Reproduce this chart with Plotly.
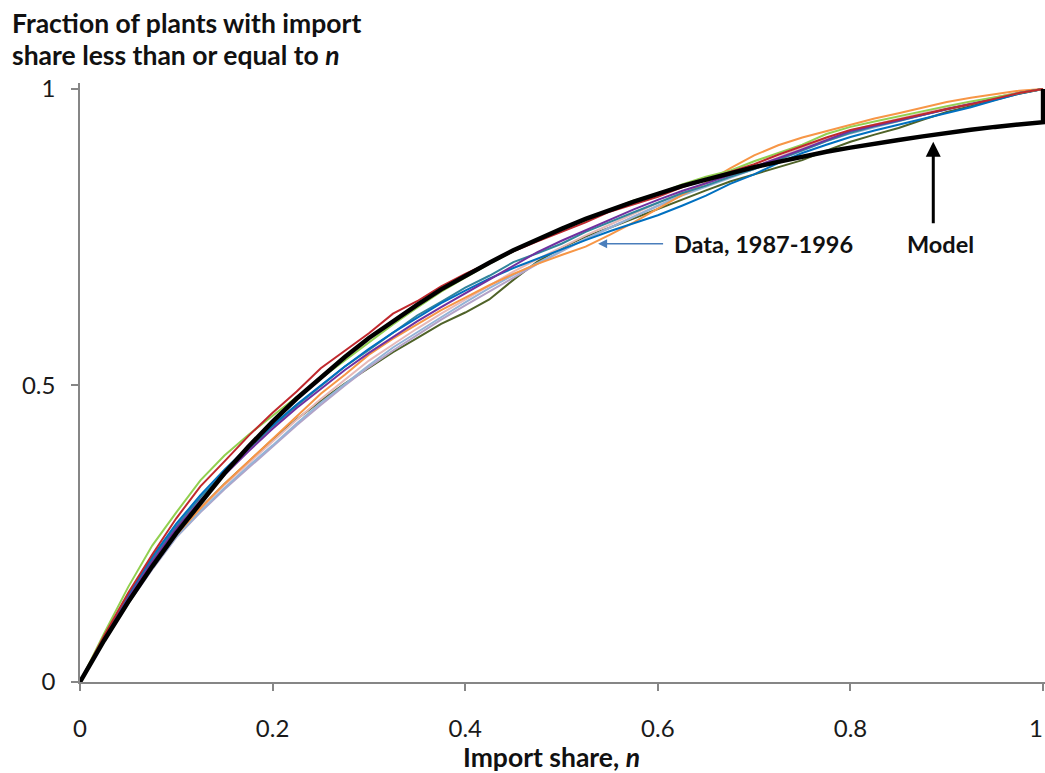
import plotly.graph_objects as go

# Shared x grid for the empirical distributions (import share n)
share = [0, .025, .05, .075, .1, .125, .15, .175, .2, .225, .25, .275, .3, .325, .35, .375,
         .4, .425, .45, .475, .5, .525, .55, .575, .6, .625, .65, .675, .7, .725, .75, .775,
         .8, .825, .85, .875, .9, .925, .95, .975, 1.0]

# Model CDF (with the jump to 1 at n = 1)
model_x = share + [1.0]
model_y = [0, .070, .135, .195, .251, .303, .352, .397, .439, .478, .514, .548, .580, .609,
           .636, .662, .685, .707, .728, .747, .764, .781, .796, .810, .823, .836, .847, .858,
           .868, .877, .886, .894, .901, .908, .914, .920, .926, .931, .936, .940, .944, 1.0]

years = ["1987", "1988", "1989", "1990", "1991", "1992", "1993", "1994", "1995", "1996"]

data_red = [0, .078, .150, .215, .276, .330, .372, .415, .454, .490, .529, .558, .588, .621, .642,
            .667, .688, .707, .726, .743, .759, .775, .793, .805, .818, .834, .847, .860, .873,
            .889, .904, .918, .931, .940, .949, .958, .966, .974, .984, .993, 1.0]
data_green = [0, .082, .160, .230, .286, .340, .382, .417, .449, .481, .512, .542, .572, .603, .631,
              .658, .682, .705, .726, .746, .764, .778, .796, .812, .823, .839, .852, .862, .878,
              .892, .906, .924, .936, .945, .954, .962, .971, .979, .986, .994, 1.0]
data_purple = [0, .073, .141, .203, .259, .306, .349, .389, .427, .462, .494, .526, .555, .582, .608,
               .632, .655, .679, .702, .725, .744, .762, .779, .797, .813, .828, .841, .855, .868,
               .883, .898, .914, .929, .938, .947, .956, .966, .975, .984, .993, 1.0]
data_teal = [0, .075, .145, .207, .263, .311, .354, .393, .431, .466, .499, .532, .560, .589, .618,
             .641, .665, .685, .708, .723, .739, .759, .776, .792, .808, .824, .837, .852, .865,
             .881, .896, .912, .926, .937, .946, .956, .966, .974, .984, .993, 1.0]
data_orange = [0, .072, .137, .195, .248, .293, .334, .372, .409, .448, .486, .518, .552, .579, .603,
               .627, .648, .669, .688, .705, .720, .734, .754, .775, .798, .821, .842, .866, .888,
               .905, .918, .929, .939, .950, .959, .968, .978, .985, .991, .997, 1.0]
data_blue = [0, .076, .147, .211, .267, .315, .358, .397, .433, .468, .500, .532, .562, .589, .614,
             .639, .660, .680, .698, .714, .729, .745, .760, .773, .787, .803, .820, .840, .856,
             .875, .892, .906, .919, .930, .940, .950, .960, .969, .981, .992, 1.0]
data_lightblue = [0, .070, .133, .191, .245, .288, .327, .364, .399, .436, .471, .503, .534, .564, .590,
                  .615, .640, .664, .686, .707, .727, .747, .766, .785, .803, .820, .835, .850, .864,
                  .880, .896, .912, .925, .936, .946, .956, .966, .975, .985, .994, 1.0]
data_pink = [0, .072, .136, .195, .249, .293, .332, .369, .405, .442, .477, .510, .542, .569, .596,
             .621, .645, .669, .692, .713, .733, .753, .771, .790, .808, .825, .840, .855, .868,
             .885, .901, .916, .930, .940, .949, .959, .969, .977, .986, .994, 1.0]
data_lavender = [0, .069, .132, .190, .244, .286, .325, .361, .397, .433, .467, .500, .531, .559, .585,
                 .611, .635, .658, .682, .705, .726, .747, .766, .785, .803, .821, .837, .852, .865,
                 .882, .898, .914, .927, .938, .948, .957, .967, .976, .985, .994, 1.0]
data_olive = [0, .070, .134, .193, .247, .293, .334, .372, .409, .443, .474, .503, .530, .556, .580,
              .604, .623, .645, .678, .709, .732, .751, .766, .782, .797, .814, .829, .844, .856,
              .867, .880, .896, .911, .923, .934, .948, .961, .971, .982, .992, 1.0]

series = [data_olive, data_lavender, data_lightblue, data_pink, data_orange,
          data_teal, data_blue, data_purple, data_green, data_red]
colors = ["#4F6228", "#B3A2C7", "#95B3D7", "#E6B9B8", "#F79646",
          "#31859C", "#0070C0", "#7030A0", "#92D050", "#C0282D"]

x_ticks = [0, 0.2, 0.4, 0.6, 0.8, 1]
x_ticklabels = ["0", "0.2", "0.4", "0.6", "0.8", ""]
x_last_label = "1"   # drawn as an annotation so it does not overflow the page
y_ticks = [0, 0.5, 1]
y_ticklabels = ["0", "0.5", "1"]

FONT = "Lato, 'Open Sans', sans-serif"

fig = go.Figure()
for ys, c, yr in zip(series, colors, years):
    fig.add_trace(go.Scatter(x=share, y=ys, mode="lines", name=yr,
                             line=dict(color=c, width=2), hoverinfo="skip"))
fig.add_trace(go.Scatter(x=model_x, y=model_y, mode="lines", name="Model",
                         line=dict(color="black", width=4.5), hoverinfo="skip"))

fig.update_layout(
    width=1045, height=773,
    margin=dict(l=80, r=0, t=83, b=91),
    paper_bgcolor="white", plot_bgcolor="white",
    showlegend=False,
    font=dict(family=FONT, color="#1a1a1a", size=24),
    xaxis=dict(range=[0, 1.002], tickvals=x_ticks, ticktext=x_ticklabels,
               showgrid=False, zeroline=False, showline=True, linecolor="#868686",
               linewidth=1.5, ticks="outside", ticklen=7, tickcolor="#868686",
               tickwidth=1.5, ticklabelstandoff=17,
               tickfont=dict(size=24, family=FONT)),
    yaxis=dict(range=[0, 1.01], tickvals=y_ticks, ticktext=y_ticklabels,
               showgrid=False, zeroline=False, showline=True, linecolor="#868686",
               linewidth=1.5, ticks="outside", ticklen=7, tickcolor="#868686",
               tickwidth=1.5, ticklabelstandoff=11, tickfont=dict(size=24, family=FONT)),
    annotations=[
        dict(text="<b>Fraction of plants with import</b>", xref="paper", yref="paper",
             x=-0.0725, y=1.101, xanchor="left", yanchor="middle", showarrow=False,
             font=dict(size=26.5, family=FONT, color="#111")),
        dict(text="<b>share less than or equal to <i>n</i></b>", xref="paper", yref="paper",
             x=-0.0725, y=1.046, xanchor="left", yanchor="middle", showarrow=False,
             font=dict(size=26.5, family=FONT, color="#111")),
        dict(text="<b>Import share, <i>n</i></b>", xref="paper", yref="paper",
             x=0.489, y=-0.1245, xanchor="center", yanchor="middle", showarrow=False,
             font=dict(size=26.5, family=FONT, color="#111")),
        dict(text=x_last_label, xref="paper", yref="paper", x=1.0, y=-0.0765,
             xanchor="right", yanchor="middle", showarrow=False,
             font=dict(size=24, family=FONT, color="#1a1a1a")),
        dict(text="<b>Data, 1987-1996</b>", x=0.615, y=0.739, xanchor="left",
             yanchor="middle", showarrow=False, font=dict(size=23.5, family=FONT, color="#111")),
        dict(text="", x=0.538, y=0.739, ax=0.607, ay=0.739, axref="x", ayref="y",
             showarrow=True, arrowhead=2, arrowsize=1.2, arrowwidth=1.5, arrowcolor="#4A7EBB"),
        dict(text="<b>Model</b>", x=0.893, y=0.739, xanchor="center",
             yanchor="middle", showarrow=False, font=dict(size=23.5, family=FONT, color="#111")),
        dict(text="", x=0.886, y=0.911, ax=0.886, ay=0.771, axref="x", ayref="y",
             showarrow=True, arrowhead=2, arrowsize=1, arrowwidth=3, arrowcolor="black"),
    ],
)

post = """
document.documentElement.style.overflow='hidden';
document.body.style.margin='0';
document.body.style.overflow='hidden';
"""
fig.write_html("out.html", config={"displayModeBar": False}, post_script=post)
